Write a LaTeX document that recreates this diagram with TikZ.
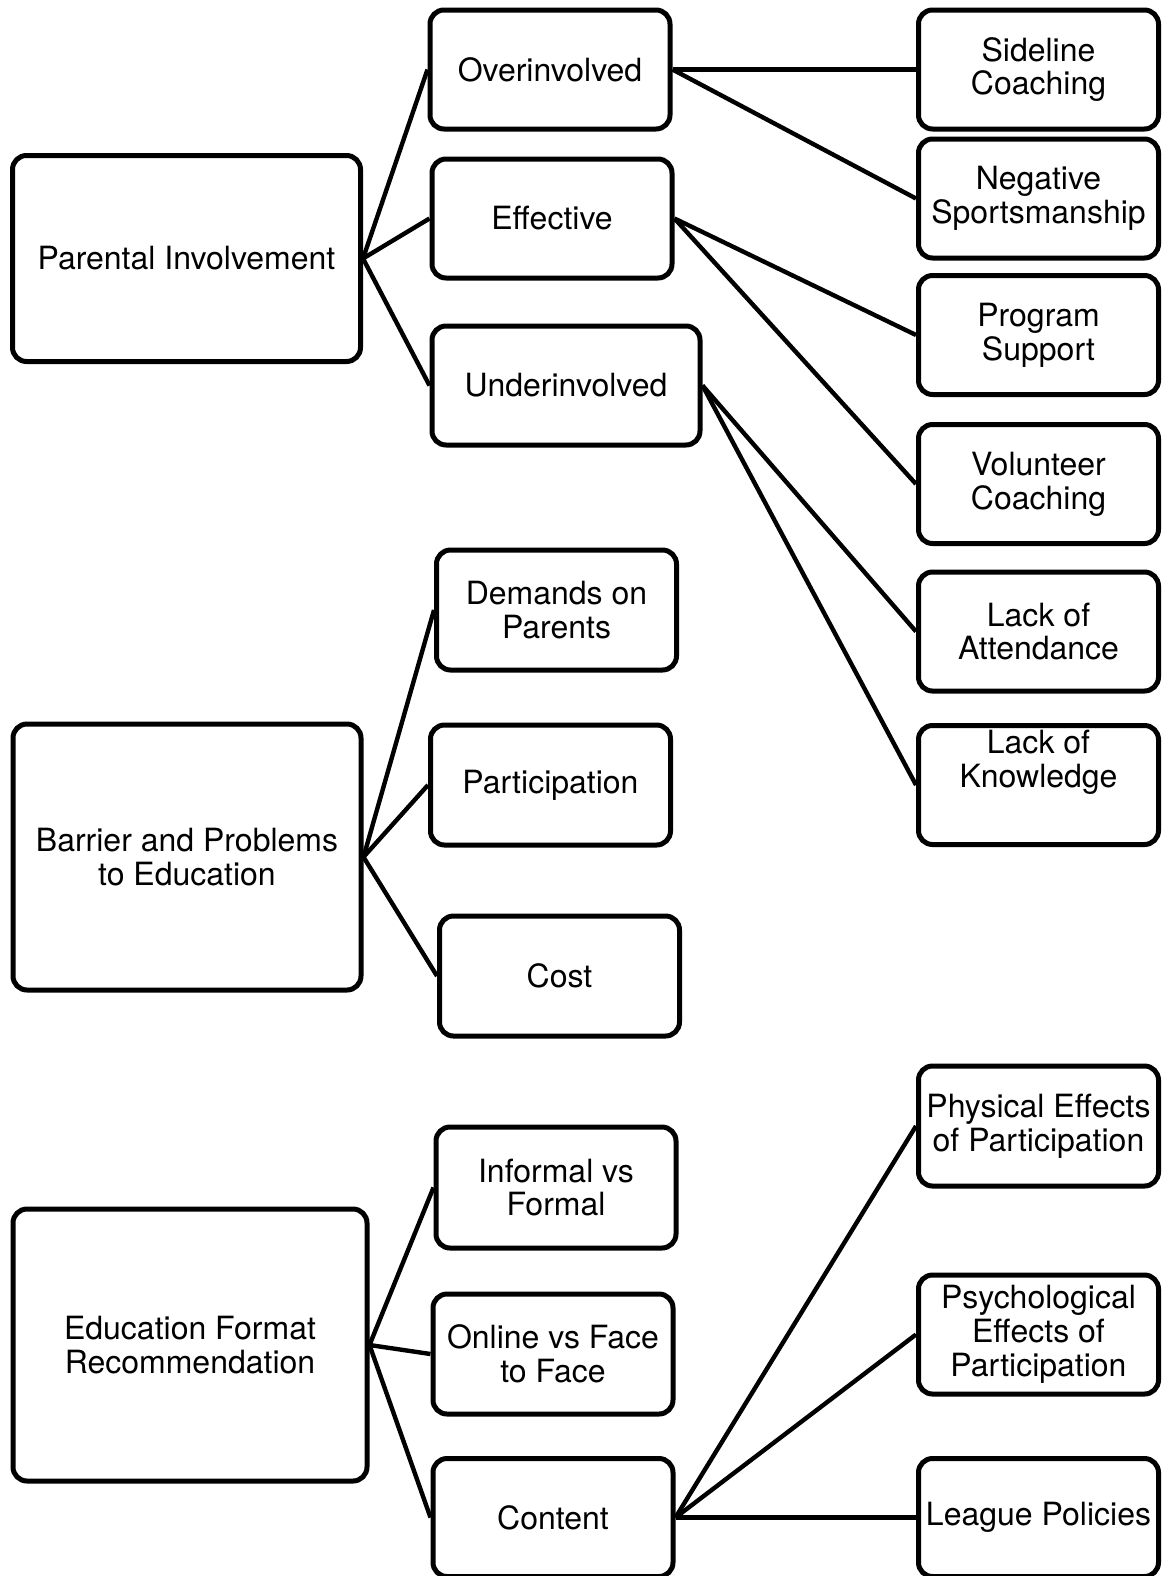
\documentclass[tikz,border=0pt]{standalone}
\usepackage{fontspec}
\setmainfont{TeX Gyre Heros}
\tikzset{
  topic/.style={draw, line width=2.5pt, rounded corners=7pt, align=center,
    inner sep=0pt, font=\fontsize{16}{16.9}\selectfont},
  theme/.style={topic, minimum width=174pt, minimum height=103pt},
  subtopic/.style={topic, minimum width=120pt, minimum height=59.5pt},
  link/.style={line width=2.2pt},
}
\begin{document}
\begin{tikzpicture}[x=0.5pt, y=-0.5pt]
\useasboundingbox (0,0) rectangle (1162,1576);

% Parental Involvement
\node[theme] (parent) at (186.5,258.5) {Parental Involvement};
\node[subtopic] (over) at (550,69.5) {Overinvolved};
\node[subtopic] (effect) at (552,218.5) {Effective};
\node[subtopic, minimum width=134pt] (under) at (566,385.5) {Underinvolved};

\node[subtopic] (sideline) at (1038.5,69.5) {Sideline\\Coaching};
\node[subtopic] (negative) at (1038.5,198.5) {Negative\\Sportsmanship};
\node[subtopic] (program) at (1038.5,335) {Program\\Support};
\node[subtopic] (volunteer) at (1038.5,484) {Volunteer\\Coaching};
\node[subtopic] (attend) at (1038.5,631.5) {Lack of\\Attendance};
\node[subtopic, label={[align=center, font=\fontsize{16}{16.9}\selectfont, yshift=11.5pt]center:Lack of\\Knowledge}] (know) at (1038.5,785) {};

% Barrier and Problems
\node[theme, minimum height=133pt] (barrier) at (187,857) {Barrier and Problems\\to Education};
\node[subtopic, minimum height=60pt] (demand) at (556.5,610) {Demands on\\Parents};
\node[subtopic, minimum height=60pt] (partic) at (550.5,785) {Participation};
\node[subtopic, minimum height=60pt] (cost) at (559.5,976) {Cost};

% Education Format
\node[theme, minimum width=177pt, minimum height=136pt] (format) at (190,1345) {Education Format\\Recommendation};
\node[subtopic, minimum height=60.5pt] (informal) at (556,1187.5) {Informal vs\\Formal};
\node[subtopic, minimum height=60pt] (online) at (553,1354) {Online vs Face\\to Face};
\node[subtopic, minimum height=59pt] (content) at (553,1517.5) {Content};

\node[subtopic, minimum height=60pt] (physical) at (1038.5,1126) {Physical Effects\\of Participation};
\node[subtopic] (psych) at (1038.5,1334.5) {Psychological\\Effects of\\Participation};
\node[subtopic, minimum height=59pt] (league) at (1038.5,1517.5) {League Policies};

% Connectors
\draw[link] (parent.east) -- (over.west);
\draw[link] (parent.east) -- (effect.west);
\draw[link] (parent.east) -- (under.west);
\draw[link] (over.east) -- (sideline.west);
\draw[link] (over.east) -- (negative.west);
\draw[link] (effect.east) -- (program.west);
\draw[link] (effect.east) -- (volunteer.west);
\draw[link] (under.east) -- (attend.west);
\draw[link] (under.east) -- (know.west);

\draw[link] (barrier.east) -- (demand.west);
\draw[link] (barrier.east) -- (partic.west);
\draw[link] (barrier.east) -- (cost.west);

\draw[link] (format.east) -- (informal.west);
\draw[link] (format.east) -- (online.west);
\draw[link] (format.east) -- (content.west);
\draw[link] (content.east) -- (physical.west);
\draw[link] (content.east) -- (psych.west);
\draw[link] (content.east) -- (league.west);
\end{tikzpicture}
\end{document}
